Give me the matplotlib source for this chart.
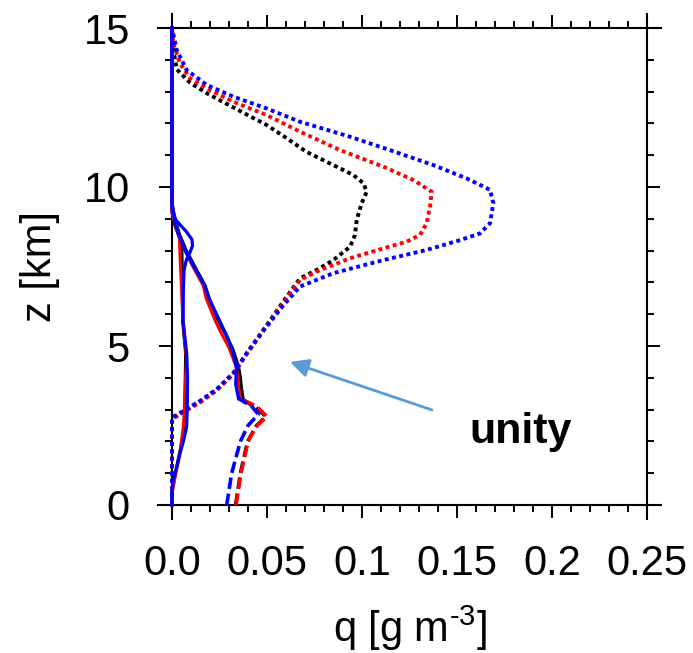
import numpy as np
import matplotlib.pyplot as plt
from matplotlib.ticker import MultipleLocator, FixedLocator, FixedFormatter

plt.rcParams['font.family'] = ['Liberation Sans', 'DejaVu Sans']
plt.rcParams['mathtext.fontset'] = 'custom'
plt.rcParams['mathtext.rm'] = 'Liberation Sans'
plt.rcParams['mathtext.it'] = 'Liberation Sans:italic'

# 各廓线 (q [g m-3], z [km])，三组试验：黑、红、蓝
# 雪 (点线)
snow_z_k = [0, 2.7, 2.94, 3.25, 3.62, 4.14, 4.77, 5.5, 6.4, 7.13, 7.39, 7.7, 8.12, 8.49, 8.96, 9.49,
            9.85, 10.12, 10.38, 10.69, 11.1, 11.55, 11.95, 12.5, 12.95, 13.28, 13.7, 14.4, 15]
snow_q_k = [0, 0, 0.006, 0.0147, 0.0235, 0.0323, 0.0393, 0.048, 0.0586, 0.0674, 0.0761, 0.0849, 0.0937,
            0.0963, 0.0972, 0.0998, 0.1025, 0.1007, 0.0954, 0.0849, 0.0709, 0.06, 0.0498, 0.0323,
            0.0183, 0.0095, 0.0025, 0.0005, 0]
snow_z_r = [0, 2.7, 2.92, 3.22, 3.6, 4.12, 4.75, 5.48, 6.35, 7.08, 7.34, 7.76, 8.07, 8.28, 8.49, 8.86,
            9.38, 9.85, 10.22, 10.64, 11.16, 11.74, 12.26, 12.68, 13.1, 13.42, 13.89, 14.52, 15]
snow_q_r = [0, 0, 0.006, 0.0147, 0.0235, 0.0323, 0.0393, 0.048, 0.0586, 0.0674, 0.0761, 0.0937, 0.1112,
            0.1235, 0.1305, 0.134, 0.1358, 0.1367, 0.127, 0.1112, 0.0884, 0.0674, 0.0498, 0.0323,
            0.0183, 0.0095, 0.0042, 0.0007, 0]
snow_z_b = [0, 2.75, 2.96, 3.27, 3.64, 4.15, 4.76, 5.47, 6.28, 6.87, 7.29, 7.7, 8.02, 8.33, 8.54, 8.86,
            9.49, 9.91, 10.27, 10.69, 11.16, 11.58, 12.05, 12.47, 12.84, 13.21, 13.68, 14.31, 15]
snow_q_b = [0, 0, 0.006, 0.0147, 0.0235, 0.0323, 0.0393, 0.048, 0.0586, 0.0674, 0.0849, 0.1112, 0.134,
            0.1516, 0.1621, 0.1674, 0.1691, 0.1674, 0.1551, 0.1375, 0.1147, 0.0937, 0.0674, 0.0498,
            0.0323, 0.0183, 0.0077, 0.0025, 0]

# 雨 (虚线)
rain_z_k = [0, 1.0, 2.0, 2.5, 2.78, 3.05, 3.3]
rain_q_k = [0.0335, 0.036, 0.0398, 0.0445, 0.0495, 0.0445, 0.0375]
rain_z_r = [0, 1.0, 2.0, 2.5, 2.78, 3.1, 3.35]
rain_q_r = [0.0337, 0.0363, 0.040, 0.0448, 0.050, 0.0445, 0.036]
rain_z_b = [0, 1.0, 2.0, 2.5, 2.85, 3.1, 3.35]
rain_q_b = [0.0288, 0.0314, 0.036, 0.040, 0.0454, 0.042, 0.035]

# 霰 (实线)
grau_z_k = [3.3, 3.7, 4.0, 4.35, 4.9, 5.4, 5.85, 6.5, 6.9, 7.5, 8.0, 8.5, 9.0, 9.5, 15]
grau_q_k = [0.0375, 0.0365, 0.036, 0.035, 0.032, 0.028, 0.024, 0.0195, 0.0174, 0.012, 0.0075, 0.004,
            0.0015, 0, 0]
grau_z_r = [3.35, 3.7, 4.1, 4.4, 4.95, 5.4, 5.82, 6.5, 6.9, 7.5, 8.0, 8.5, 9.0, 9.4, 15]
grau_q_r = [0.036, 0.035, 0.0345, 0.0335, 0.030, 0.026, 0.0226, 0.018, 0.0165, 0.011, 0.0068, 0.0035,
            0.001, 0, 0]
grau_z_b = [3.35, 3.8, 4.3, 4.8, 5.3, 5.8, 6.5, 6.9, 7.5, 8.0, 8.5, 9.0, 9.5, 15]
grau_q_b = [0.035, 0.0335, 0.034, 0.032, 0.029, 0.025, 0.0195, 0.0172, 0.0115, 0.007, 0.0035, 0.0012,
            0, 0]

# 云水 (实线)
cld_z_k = [0, 0.4, 1.0, 1.63, 2.46, 3.0, 4.0, 4.77, 5.8, 6.87, 7.92, 8.4, 8.8, 9.2, 15]
cld_q_k = [0, 0, 0.0018, 0.004, 0.0068, 0.0068, 0.007, 0.0072, 0.0056, 0.0055, 0.0052, 0.004, 0.0015, 0, 0]
cld_z_r = [0, 0.4, 1.0, 1.63, 2.46, 3.0, 4.0, 4.56, 5.8, 6.87, 7.92, 8.4, 8.8, 9.2, 15]
cld_q_r = [0, 0, 0.002, 0.0042, 0.006, 0.0065, 0.0072, 0.0077, 0.0058, 0.005, 0.0042, 0.004, 0.002, 0, 0]
cld_z_b = [0, 0.4, 0.73, 1.2, 1.63, 2.0, 2.46, 3.0, 4.0, 4.77, 5.8, 6.87, 7.4, 7.7, 7.95, 8.15, 8.35,
           8.6, 8.96, 9.3, 15]
cld_q_b = [0, 0, 0.0005, 0.0025, 0.0042, 0.006, 0.0077, 0.008, 0.0082, 0.0077, 0.0058, 0.006, 0.0064,
           0.0075, 0.0095, 0.0108, 0.0105, 0.0075, 0.002, 0, 0]

x_ticks = [0, 0.05, 0.1, 0.15, 0.2, 0.25]
x_ticklabels = ['0.0', '0.05', '0.1', '0.15', '0.2', '0.25']

fig = plt.figure(figsize=(6.93, 6.53), dpi=100)
ax = fig.add_axes([172 / 693, 148 / 653, 475 / 693, 477 / 653])

dot = dict(linestyle=(0, (1, 0.9)), lw=2.8)
dash = dict(linestyle=(0, (3.2, 1.3)), lw=2.6)
solid = dict(linestyle='-', lw=2.3)

for c, sz, sq, rz, rq, gz, gq, cz, cq in [
        ('black', snow_z_k, snow_q_k, rain_z_k, rain_q_k, grau_z_k, grau_q_k, cld_z_k, cld_q_k),
        ('red', snow_z_r, snow_q_r, rain_z_r, rain_q_r, grau_z_r, grau_q_r, cld_z_r, cld_q_r),
        ('blue', snow_z_b, snow_q_b, rain_z_b, rain_q_b, grau_z_b, grau_q_b, cld_z_b, cld_q_b)]:
    ax.plot(cq, cz, color=c, clip_on=False, **solid)
    ax.plot(gq, gz, color=c, clip_on=False, **solid)
    ax.plot(rq, rz, color=c, clip_on=False, **dash)
    ax.plot(sq, sz, color=c, clip_on=False, **dot)

ax.set_xlim(0, 0.25)
ax.set_ylim(0, 15)
ax.xaxis.set_major_locator(FixedLocator(x_ticks))
ax.xaxis.set_major_formatter(FixedFormatter(x_ticklabels))
ax.xaxis.set_minor_locator(MultipleLocator(0.01))
ax.yaxis.set_major_locator(MultipleLocator(5))
ax.yaxis.set_minor_locator(MultipleLocator(1))
ax.tick_params(which='both', direction='out', top=True, right=True, width=1.4, labelsize=30)
ax.tick_params(axis='x', which='major', length=9.4, pad=19)
ax.tick_params(axis='y', which='major', length=9.4, pad=21)
ax.tick_params(which='minor', length=5)

# 坐标轴框线两端略微伸出
for s in ax.spines.values():
    s.set_visible(False)
ext = 0.03
kw = dict(color='black', lw=1.5, transform=ax.transAxes, clip_on=False, zorder=1)
ax.plot([-ext, 1 + ext], [0, 0], **kw)
ax.plot([-ext, 1 + ext], [1, 1], **kw)
ax.plot([0, 0], [-ext, 1 + ext], **kw)
ax.plot([1, 1], [-ext, 1 + ext], **kw)

ax.set_xlabel(r'q [g m$^{\text{-3}}$]', fontsize=30, labelpad=14)
ax.set_ylabel('z [km]', fontsize=30)
ax.yaxis.set_label_coords(-0.236, 0.5)

ax.annotate('', xy=(0.0621, 4.5), xytext=(0.1368, 2.99),
            arrowprops=dict(arrowstyle='-|>', color='#5b9bd5', lw=2.0,
                            mutation_scale=28, shrinkA=0, shrinkB=0))
ax.text(0.1832, 1.95, 'unity', fontsize=31, fontweight='bold', ha='center', va='baseline')

fig.savefig('out.png', dpi=100)
